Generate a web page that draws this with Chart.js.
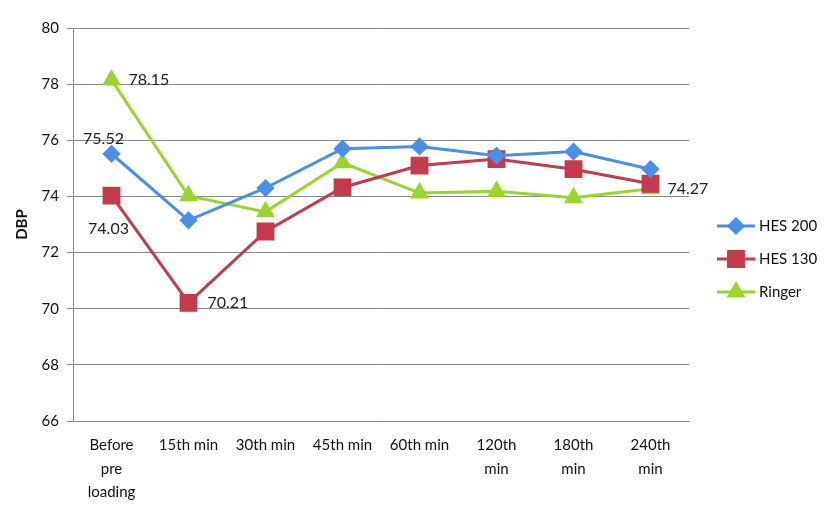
<!DOCTYPE html>
<html>
<head>
<meta charset="utf-8">
<script src="https://cdn.jsdelivr.net/npm/chart.js@4/dist/chart.umd.min.js"></script>
<style>
  html, body { margin: 0; padding: 0; background: #fff; }
  #wrap { width: 830px; height: 507px; }
</style>
</head>
<body>
<div id="wrap"><canvas id="dbpChart" width="830" height="507"></canvas></div>
<script>
// data
const categories = [['Before', 'pre', 'loading'], '15th min', '30th min', '45th min', '60th min', ['120th', 'min'], ['180th', 'min'], ['240th', 'min']];
const hes200 = [75.52, 73.15, 74.3, 75.7, 75.78, 75.45, 75.6, 74.97];
const hes130 = [74.03, 70.21, 72.75, 74.32, 75.1, 75.33, 74.97, 74.45];
const ringer = [78.15, 74.02, 73.45, 75.2, 74.12, 74.18, 73.95, 74.27];
const yTicks = [66, 68, 70, 72, 74, 76, 78, 80];

// which points carry a value label: [dataset, index, dx, dy, align]
const valueLabels = [
    [2, 0, 17, 0, 'left'],
    [0, 0, -8, -15, 'center'],
    [1, 0, -3, 33, 'center'],
    [1, 1, 19, 0, 'left'],
    [2, 7, 17, 0, 'left']
];

const BLUE = '#4a8fe7';
const RED = '#c53a4c';
const GREEN = '#9cd42f';
const FONT = 'Lato, "Open Sans", sans-serif';

// Value labels next to the points
const valueLabelPlugin = {
    id: 'valueLabels',
    afterDatasetsDraw(chart) {
        const ctx = chart.ctx;
        ctx.save();
        ctx.font = '16px ' + FONT;
        ctx.fillStyle = '#222';
        ctx.textBaseline = 'middle';
        valueLabels.forEach(function(l) {
            const pt = chart.getDatasetMeta(l[0]).data[l[1]];
            const v = chart.data.datasets[l[0]].data[l[1]];
            ctx.textAlign = l[4];
            ctx.fillText(v.toFixed(2), pt.x + l[2], pt.y + l[3]);
        });
        ctx.restore();
    }
};

// Legend on the right, line with marker like the original
const sideLegend = {
    id: 'sideLegend',
    afterDraw(chart) {
        const ctx = chart.ctx;
        ctx.save();
        chart.data.datasets.forEach(function(ds, i) {
            const y = 226 + i * 33;
            ctx.strokeStyle = ds.borderColor;
            ctx.lineWidth = 3;
            ctx.beginPath();
            ctx.moveTo(717, y);
            ctx.lineTo(755, y);
            ctx.stroke();
            Chart.helpers.drawPoint(ctx, {
                pointStyle: ds.pointStyle,
                radius: ds.pointRadius,
                borderWidth: 1
            }, 736, y);
            ctx.fillStyle = ds.borderColor;
            ctx.fill();
            ctx.fillStyle = '#111';
            ctx.font = '15px ' + FONT;
            ctx.textAlign = 'left';
            ctx.textBaseline = 'middle';
            ctx.fillText(ds.label, 759, y);
        });
        ctx.restore();
    }
};

const ctx = document.getElementById('dbpChart').getContext('2d');
const dbpChart = new Chart(ctx, {
    type: 'line',
    data: {
        labels: categories,
        datasets: [
            {
                label: 'HES 200',
                data: hes200,
                borderColor: BLUE,
                backgroundColor: BLUE,
                pointStyle: 'rectRot',
                pointRadius: 7,
                pointHoverRadius: 7,
                borderWidth: 3
            },
            {
                label: 'HES 130',
                data: hes130,
                borderColor: RED,
                backgroundColor: RED,
                pointStyle: 'rect',
                pointRadius: 10.5,
                pointHoverRadius: 10.5,
                borderWidth: 3
            },
            {
                label: 'Ringer',
                data: ringer,
                borderColor: GREEN,
                backgroundColor: GREEN,
                pointStyle: 'triangle',
                pointRadius: 8,
                pointHoverRadius: 8,
                borderWidth: 3
            }
        ]
    },
    options: {
        responsive: false,
        animation: false,
        events: [],
        layout: { padding: { left: 0, right: 141, top: 28, bottom: 0 } },
        plugins: {
            legend: { display: false },
            tooltip: { enabled: false }
        },
        scales: {
            x: {
                offset: true,
                grid: { display: false },
                border: { color: '#8a8a8a', width: 1 },
                ticks: {
                    color: '#111',
                    font: { family: FONT, size: 15, lineHeight: 1.55 },
                    padding: 5,
                    maxRotation: 0,
                    autoSkip: false
                },
                afterFit(scale) { scale.height = 86; }
            },
            y: {
                min: 66,
                max: 80,
                afterBuildTicks(scale) {
                    scale.ticks = yTicks.map(function(v) { return { value: v }; });
                },
                grid: { color: '#8a8a8a', lineWidth: 1, tickLength: 6 },
                border: { color: '#8a8a8a', width: 1 },
                ticks: {
                    color: '#111',
                    font: { family: FONT, size: 15 },
                    padding: 8
                },
                title: {
                    display: true,
                    text: 'DBP',
                    color: '#111',
                    font: { family: FONT, size: 15, weight: 'bold' },
                    padding: { top: 13, bottom: 0 }
                },
                afterFit(scale) { scale.width = 73; }
            }
        }
    },
    plugins: [valueLabelPlugin, sideLegend]
});
</script>
</body>
</html>
